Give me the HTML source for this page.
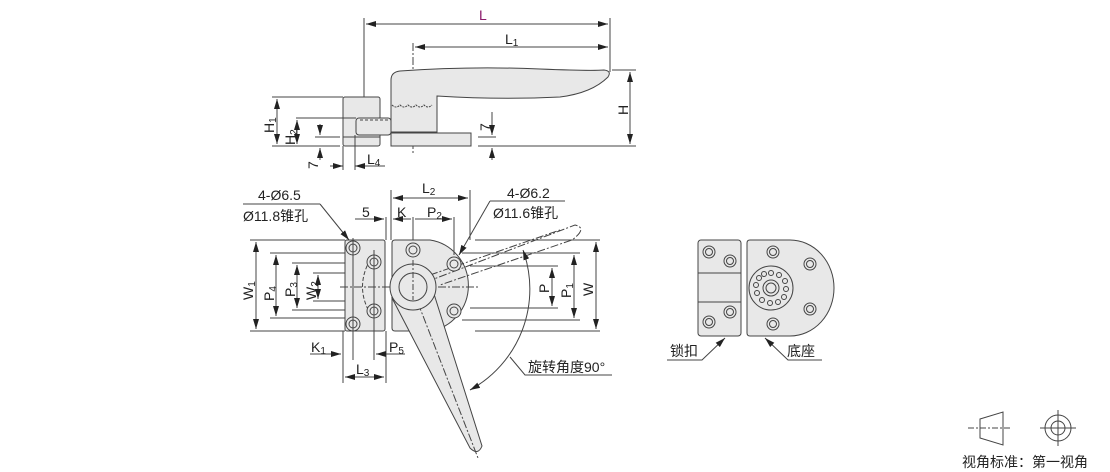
<!DOCTYPE html>
<html><head><meta charset="utf-8"><style>
html,body{margin:0;padding:0;background:#fff;width:1110px;height:472px;overflow:hidden}
svg{display:block}
text{font-family:"Liberation Sans","Noto Sans CJK SC",sans-serif;fill:#222}
</style></head><body>
<svg width="1110" height="472" viewBox="0 0 1110 472" xmlns="http://www.w3.org/2000/svg">
<defs>
<marker id="a" viewBox="0 0 10 6" refX="10" refY="3" markerWidth="10" markerHeight="6" orient="auto-start-reverse"><path d="M0,0L10,3L0,6z" fill="#222"/></marker>
</defs>
<g stroke="#444" stroke-width="1" fill="none">
<!-- TOP VIEW -->
<line x1="364" y1="18" x2="364" y2="140"/>
<line x1="610" y1="18" x2="610" y2="72"/>
<line x1="366" y1="24" x2="608" y2="24" marker-start="url(#a)" marker-end="url(#a)"/>
<line x1="415" y1="47" x2="608" y2="47" marker-start="url(#a)" marker-end="url(#a)"/>
<line x1="413" y1="43" x2="413" y2="153" stroke-dasharray="8,2,2,2"/>
<path d="M391,132 L391,80 Q391,72 400,71 Q470,66 540,69 Q590,71 604,70 Q612,71 608,77 Q592,93 560,97 Q500,100 437,96 L437,132 Z" fill="#e8e8e8"/>
<line x1="391" y1="132" x2="437" y2="132"/>
<rect x="391" y="133" width="80" height="13" fill="#e8e8e8"/>
<path d="M392,105 q4,4 8,0 q4,4 8,0 q4,4 8,0 q4,4 8,0 q4,4 8,0" stroke-dasharray="2,1"/>
<rect x="343" y="97" width="37" height="49" rx="2" fill="#e8e8e8"/>
<line x1="343" y1="137" x2="380" y2="137"/>
<rect x="356" y="118" width="35" height="17" rx="3" fill="#e8e8e8"/>
<line x1="360" y1="120" x2="390" y2="120" stroke-dasharray="3,2"/>
<line x1="272" y1="97" x2="343" y2="97"/>
<line x1="272" y1="146" x2="340" y2="146"/>
<line x1="296" y1="118" x2="356" y2="118"/>
<line x1="315" y1="137" x2="340" y2="137"/>
<line x1="277" y1="99" x2="277" y2="144" marker-start="url(#a)" marker-end="url(#a)"/>
<line x1="297" y1="120" x2="297" y2="144" marker-start="url(#a)" marker-end="url(#a)"/>
<line x1="320" y1="124" x2="320" y2="135" marker-end="url(#a)"/>
<line x1="320" y1="148" x2="320" y2="160" marker-start="url(#a)"/>
<line x1="343" y1="146" x2="343" y2="170"/>
<line x1="355" y1="135" x2="355" y2="170"/>
<line x1="330" y1="166" x2="343" y2="166" marker-end="url(#a)"/>
<line x1="355" y1="166" x2="385" y2="166" marker-start="url(#a)"/>
<line x1="612" y1="70" x2="636" y2="70"/>
<line x1="478" y1="146" x2="636" y2="146"/>
<line x1="630" y1="72" x2="630" y2="144" marker-start="url(#a)" marker-end="url(#a)"/>
<line x1="478" y1="137" x2="496" y2="137"/>
<line x1="492" y1="112" x2="492" y2="135" marker-end="url(#a)"/>
<line x1="492" y1="148" x2="492" y2="160" marker-start="url(#a)"/>

<!-- BOTTOM VIEW -->
<line x1="250" y1="240" x2="345" y2="240"/>
<line x1="250" y1="331" x2="345" y2="331"/>
<line x1="270" y1="253" x2="360" y2="253"/>
<line x1="270" y1="318" x2="360" y2="318"/>
<line x1="292" y1="263" x2="380" y2="263"/>
<line x1="292" y1="310" x2="380" y2="310"/>
<line x1="313" y1="273" x2="345" y2="273"/>
<line x1="313" y1="301" x2="345" y2="301"/>
<line x1="256" y1="242" x2="256" y2="329" marker-start="url(#a)" marker-end="url(#a)"/>
<line x1="276" y1="255" x2="276" y2="316" marker-start="url(#a)" marker-end="url(#a)"/>
<line x1="297" y1="265" x2="297" y2="308" marker-start="url(#a)" marker-end="url(#a)"/>
<line x1="318" y1="275" x2="318" y2="299" marker-start="url(#a)" marker-end="url(#a)"/>
<rect x="345" y="240" width="40" height="91" rx="2" fill="#e8e8e8"/>
<path d="M395,240 L430,240 A45,46 0 0 1 430,331 L395,331 Q392,331 392,328 L392,243 Q392,240 395,240 Z" fill="#e8e8e8"/>
<line x1="340" y1="287" x2="478" y2="287" stroke-dasharray="8,2,2,2"/>
<path d="M373,255 Q352,287 373,318" stroke-dasharray="4,2"/>
<path d="M413,287 L575,225 Q588,228 572,240 L440,285" stroke-dasharray="8,2,2,2"/>
<path d="M430,275 L560,230" stroke-dasharray="8,2,2,2"/>
<path d="M392,298 L470,448 Q478,456 482,446 L434,294 Z" fill="#e8e8e8"/>
<line x1="413" y1="290" x2="478" y2="458" stroke-dasharray="8,2,2,2"/>
<circle cx="413" cy="287" r="23" fill="#e8e8e8"/>
<circle cx="413" cy="287" r="14" fill="#e8e8e8"/>
<line x1="413" y1="260" x2="413" y2="300" stroke-dasharray="6,2,2,2"/>
<g fill="#e8e8e8">
<circle cx="353" cy="248" r="7"/><circle cx="353" cy="248" r="4"/>
<circle cx="353" cy="324" r="7"/><circle cx="353" cy="324" r="4"/>
<circle cx="374" cy="262" r="7"/><circle cx="374" cy="262" r="4"/>
<circle cx="374" cy="311" r="7"/><circle cx="374" cy="311" r="4"/>
<circle cx="413" cy="250" r="7"/><circle cx="413" cy="250" r="4"/>
<circle cx="454" cy="264" r="7"/><circle cx="454" cy="264" r="4"/>
<circle cx="454" cy="311" r="7"/><circle cx="454" cy="311" r="4"/>
</g>
<line x1="353" y1="238" x2="353" y2="360"/>
<line x1="374" y1="250" x2="374" y2="360"/>
<line x1="343" y1="331" x2="343" y2="383"/>
<line x1="386" y1="331" x2="386" y2="383"/>
<line x1="310" y1="354" x2="341" y2="354" marker-end="url(#a)"/>
<line x1="376" y1="354" x2="405" y2="354" marker-start="url(#a)"/>
<line x1="345" y1="377" x2="384" y2="377" marker-start="url(#a)" marker-end="url(#a)"/>
<line x1="391" y1="190" x2="391" y2="240"/>
<line x1="470" y1="190" x2="470" y2="240"/>
<line x1="393" y1="198" x2="468" y2="198" marker-start="url(#a)" marker-end="url(#a)"/>
<line x1="386" y1="217" x2="386" y2="240"/>
<line x1="413" y1="217" x2="413" y2="240"/>
<line x1="454" y1="217" x2="454" y2="255"/>
<line x1="355" y1="219" x2="384" y2="219" marker-end="url(#a)"/>
<line x1="393" y1="219" x2="411" y2="219" marker-start="url(#a)"/>
<line x1="415" y1="219" x2="452" y2="219" marker-end="url(#a)"/>
<line x1="243" y1="204" x2="320" y2="204"/>
<polyline points="320,204 349,240" marker-end="url(#a)"/>
<line x1="490" y1="201" x2="565" y2="201"/>
<polyline points="490,201 459,255" marker-end="url(#a)"/>
<line x1="475" y1="240" x2="600" y2="240"/>
<line x1="475" y1="331" x2="600" y2="331"/>
<line x1="462" y1="253" x2="580" y2="253"/>
<line x1="462" y1="320" x2="580" y2="320"/>
<line x1="470" y1="266" x2="558" y2="266"/>
<line x1="470" y1="308" x2="558" y2="308"/>
<line x1="552" y1="268" x2="552" y2="306" marker-start="url(#a)" marker-end="url(#a)"/>
<line x1="574" y1="255" x2="574" y2="318" marker-start="url(#a)" marker-end="url(#a)"/>
<line x1="596" y1="242" x2="596" y2="329" marker-start="url(#a)" marker-end="url(#a)"/>
<path d="M523,250 A115,115 0 0 1 470,390" marker-start="url(#a)" marker-end="url(#a)"/>
<polyline points="510,357 525,375 612,375"/>

<!-- RIGHT VIEW -->
<rect x="698" y="240" width="43" height="96" rx="3" fill="#e8e8e8"/>
<line x1="698" y1="273" x2="741" y2="273"/><line x1="698" y1="302" x2="741" y2="302"/>
<path d="M750,240 L790,240 A44,48 0 0 1 790,336 L750,336 Q747,336 747,333 L747,243 Q747,240 750,240Z" fill="#e8e8e8"/>
<g fill="#e8e8e8">
<circle cx="709" cy="252" r="6"/><circle cx="709" cy="252" r="3.5"/>
<circle cx="730" cy="261" r="6"/><circle cx="730" cy="261" r="3.5"/>
<circle cx="730" cy="312" r="6"/><circle cx="730" cy="312" r="3.5"/>
<circle cx="709" cy="322" r="6"/><circle cx="709" cy="322" r="3.5"/>
<circle cx="773" cy="252" r="6"/><circle cx="773" cy="252" r="3.5"/>
<circle cx="810" cy="264" r="6"/><circle cx="810" cy="264" r="3.5"/>
<circle cx="810" cy="309" r="6"/><circle cx="810" cy="309" r="3.5"/>
<circle cx="773" cy="324" r="6"/><circle cx="773" cy="324" r="3.5"/>
<circle cx="771" cy="288" r="22"/>
<circle cx="771" cy="288" r="8"/><circle cx="771" cy="288" r="5"/>
</g>
<g>
<circle cx="771" cy="273" r="2.5"/><circle cx="779" cy="275" r="2.5"/><circle cx="785" cy="281" r="2.5"/><circle cx="786" cy="289" r="2.5"/><circle cx="784" cy="297" r="2.5"/><circle cx="778" cy="302" r="2.5"/><circle cx="770" cy="303" r="2.5"/><circle cx="762" cy="300" r="2.5"/><circle cx="757" cy="293" r="2.5"/><circle cx="756" cy="285" r="2.5"/><circle cx="759" cy="278" r="2.5"/><circle cx="764" cy="274" r="2.5"/>
</g>
<polyline points="667,360 702,360 725,338" marker-end="url(#a)"/>
<polyline points="822,360 788,360 765,338" marker-end="url(#a)"/>

<path d="M980,419 L1003,412 L1003,445 L980,438 Z"/>
<line x1="968" y1="428" x2="1010" y2="428" stroke-dasharray="6,2,2,2"/>
<circle cx="1058" cy="428" r="13"/><circle cx="1058" cy="428" r="7"/>
<line x1="1040" y1="428" x2="1076" y2="428"/><line x1="1058" y1="410" x2="1058" y2="446"/>
</g>

<g font-size="14">
<text x="479" y="20" style="fill:#8b1a6b">L</text>
<text x="505" y="44">L<tspan font-size="10" dy="2">1</tspan></text>
<text x="367" y="164">L<tspan font-size="10" dy="2">4</tspan></text>
<text transform="translate(274,133) rotate(-90)">H<tspan font-size="10" dy="2">1</tspan></text>
<text transform="translate(295,145) rotate(-90)">H<tspan font-size="10" dy="2">2</tspan></text>
<text transform="translate(318,169) rotate(-90)">7</text>
<text transform="translate(490,131) rotate(-90)">7</text>
<text transform="translate(628,115) rotate(-90)">H</text>
<text x="258" y="200">4-Ø6.5</text>
<text x="243" y="221">Ø11.8锥孔</text>
<text x="507" y="198">4-Ø6.2</text>
<text x="493" y="218">Ø11.6锥孔</text>
<text x="422" y="193">L<tspan font-size="10" dy="2">2</tspan></text>
<text x="362" y="217">5</text>
<text x="397" y="217">K</text>
<text x="427" y="217">P<tspan font-size="10" dy="2">2</tspan></text>
<text transform="translate(253,300) rotate(-90)">W<tspan font-size="10" dy="2">1</tspan></text>
<text transform="translate(274,301) rotate(-90)">P<tspan font-size="10" dy="2">4</tspan></text>
<text transform="translate(295,297) rotate(-90)">P<tspan font-size="10" dy="2">3</tspan></text>
<text transform="translate(316,300) rotate(-90)">W<tspan font-size="10" dy="2">2</tspan></text>
<text transform="translate(549,293) rotate(-90)">P</text>
<text transform="translate(571,298) rotate(-90)">P<tspan font-size="10" dy="2">1</tspan></text>
<text transform="translate(593,296) rotate(-90)">W</text>
<text x="311" y="352">K<tspan font-size="10" dy="2">1</tspan></text>
<text x="389" y="352">P<tspan font-size="10" dy="2">5</tspan></text>
<text x="356" y="374">L<tspan font-size="10" dy="2">3</tspan></text>
<text x="528" y="372">旋转角度90°</text>
<text x="670" y="356">锁扣</text>
<text x="787" y="356">底座</text>
<text x="962" y="467">视角标准：第一视角</text>
</g>
</svg>
</body></html>
